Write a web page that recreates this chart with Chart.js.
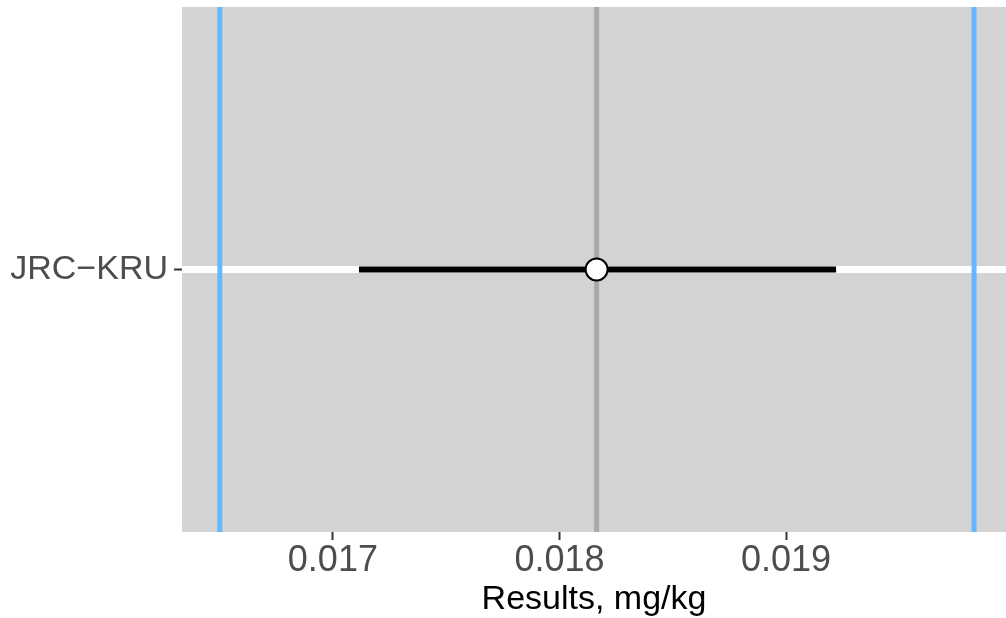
<!DOCTYPE html>
<html>
<head>
<meta charset="utf-8">
<script src="https://cdn.jsdelivr.net/npm/chart.js@4/dist/chart.umd.min.js"></script>
<style>
  html, body { margin: 0; padding: 0; background: #ffffff; }
  #wrap { width: 1006px; height: 618px; }
</style>
</head>
<body>
<div id="wrap"><canvas id="resultsChart" width="1006" height="618"></canvas></div>
<script>
// data
const labNames = ['JRC\u2212KRU'];
const resultValues = [0.018164];
const uncLower = [0.017115];
const uncUpper = [0.019221];
const assignedValue = [0.018164];
const toleranceLimits = [0.016501, 0.019830];
const xTickValues = [0.017, 0.018, 0.019];
const xRange = [0.016334, 0.019971];

// panel background like ggplot grey
const panelBg = {
    id: 'panelBg',
    beforeDraw(chart) {
        const a = chart.chartArea;
        const ctx = chart.ctx;
        ctx.save();
        ctx.fillStyle = '#d3d3d3';
        ctx.fillRect(a.left, a.top, a.right - a.left, a.bottom - a.top);
        ctx.restore();
    }
};

function noPadding(scale) {
    scale.paddingTop = 0;
    scale.paddingBottom = 0;
    scale.paddingLeft = 0;
    scale.paddingRight = 0;
}

const datasets = [];

// tolerance limits (blue)
toleranceLimits.forEach(function(v) {
    datasets.push({
        type: 'line',
        data: [{ x: v, y: 0 }, { x: v, y: 2 }],
        borderColor: '#63b8ff',
        borderWidth: 5,
        pointRadius: 0,
        order: 4
    });
});

// assigned value (grey)
assignedValue.forEach(function(v) {
    datasets.push({
        type: 'line',
        data: [{ x: v, y: 0 }, { x: v, y: 2 }],
        borderColor: '#a9a9a9',
        borderWidth: 5,
        pointRadius: 0,
        order: 3
    });
});

// uncertainty bars
labNames.forEach(function(name, i) {
    datasets.push({
        type: 'line',
        data: [{ x: uncLower[i], y: i + 1 }, { x: uncUpper[i], y: i + 1 }],
        borderColor: '#000000',
        borderWidth: 6,
        pointRadius: 0,
        order: 2
    });
});

// results
datasets.push({
    type: 'scatter',
    data: labNames.map(function(name, i) { return { x: resultValues[i], y: i + 1 }; }),
    backgroundColor: '#ffffff',
    borderColor: '#000000',
    borderWidth: 2,
    pointRadius: 11,
    order: 1
});

const ctx = document.getElementById('resultsChart').getContext('2d');
new Chart(ctx, {
    type: 'scatter',
    data: { datasets: datasets },
    plugins: [panelBg],
    options: {
        responsive: false,
        animation: false,
        layout: { autoPadding: false, padding: { top: 7, right: 0, bottom: 0, left: 0 } },
        plugins: {
            legend: { display: false },
            tooltip: { enabled: false }
        },
        scales: {
            x: {
                type: 'linear',
                min: xRange[0],
                max: xRange[1],
                afterBuildTicks: function(scale) {
                    scale.ticks = xTickValues.map(function(v) { return { value: v }; });
                },
                afterFit: function(scale) {
                    scale.height = 86;
                    noPadding(scale);
                },
                border: { display: false },
                grid: {
                    drawOnChartArea: false,
                    drawTicks: true,
                    tickLength: 8,
                    tickColor: '#333333',
                    tickWidth: 2
                },
                ticks: {
                    color: '#4d4d4d',
                    font: { family: 'Liberation Sans', size: 36 },
                    padding: -1,
                    maxRotation: 0,
                    callback: function(v) { return v.toFixed(3); }
                },
                title: {
                    display: true,
                    text: 'Results, mg/kg',
                    color: '#000000',
                    font: { family: 'Liberation Sans', size: 34 },
                    padding: { top: 0, bottom: -2 }
                }
            },
            y: {
                type: 'linear',
                min: 0,
                max: labNames.length + 1,
                afterBuildTicks: function(scale) {
                    scale.ticks = labNames.map(function(n, i) { return { value: i + 1 }; });
                },
                afterFit: function(scale) {
                    scale.width = 182;
                    noPadding(scale);
                },
                border: { display: false },
                grid: {
                    color: '#ffffff',
                    lineWidth: 7,
                    drawTicks: true,
                    tickLength: 8,
                    tickColor: '#333333',
                    tickWidth: 2
                },
                ticks: {
                    color: '#4d4d4d',
                    font: { family: 'Liberation Sans', size: 34 },
                    padding: 6,
                    callback: function(v) { return labNames[v - 1]; }
                }
            }
        }
    }
});
</script>
</body>
</html>
